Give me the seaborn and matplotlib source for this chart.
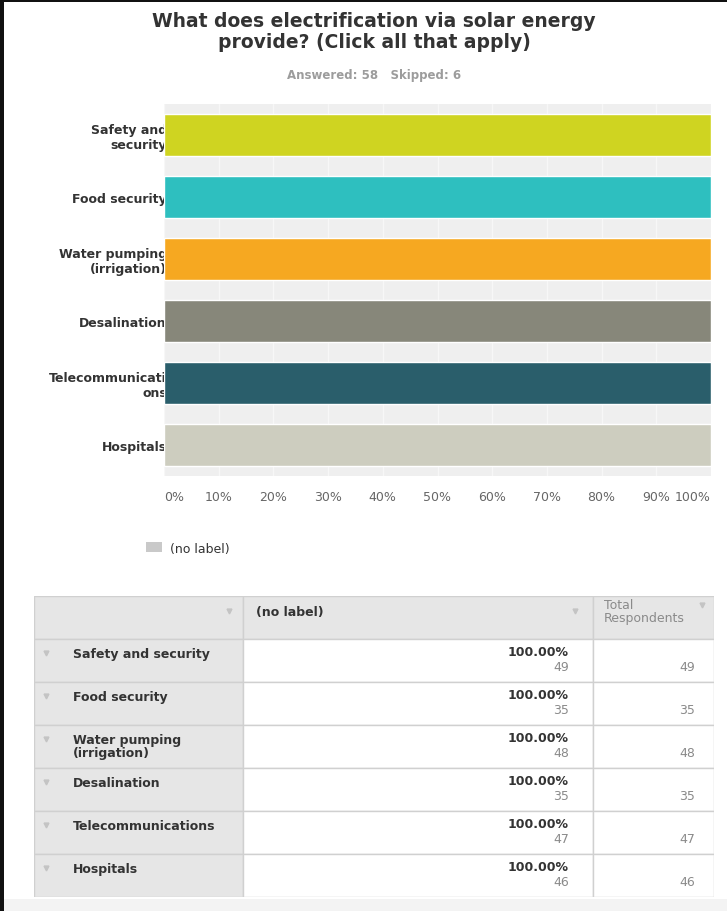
import matplotlib
matplotlib.use("Agg")
import matplotlib.pyplot as plt
import seaborn as sns
import pandas as pd
from matplotlib.patches import Rectangle, Patch

# ---- survey data ----
categories = ["Safety and security", "Food security", "Water pumping (irrigation)",
              "Desalination", "Telecommunications", "Hospitals"]
axis_labels = ["Safety and\nsecurity", "Food security", "Water pumping\n(irrigation)",
               "Desalination", "Telecommunicati\nons", "Hospitals"]
table_labels = ["Safety and security", "Food security", "Water pumping\n(irrigation)",
                "Desalination", "Telecommunications", "Hospitals"]
percent = [100.0, 100.0, 100.0, 100.0, 100.0, 100.0]
responses = [49, 35, 48, 35, 47, 46]
total_respondents = [49, 35, 48, 35, 47, 46]
bar_colors = ["#cfd421", "#2ebfbf", "#f6a821", "#87877a", "#2a5e6b", "#cdcdbf"]
x_ticks = [0, 10, 20, 30, 40, 50, 60, 70, 80, 90, 100]
x_tick_labels = ["0%", "10%", "20%", "30%", "40%", "50%", "60%", "70%", "80%", "90%", "100%"]
answered = 58
skipped = 6
series_name = "(no label)"

W, H = 727, 912
sns.set_theme(style="white")
plt.rcParams["font.family"] = ["DejaVu Sans"]

fig = plt.figure(figsize=(W / 100, H / 100), dpi=100)
fig.patch.set_facecolor("white")


def fx(px):
    return px / W


def fy(py):
    return 1 - py / H


# ---- title block ----
fig.text(fx(374), fy(32),
         "What does electrification via solar energy\nprovide? (Click all that apply)",
         ha="center", va="center", fontsize=13.5, fontweight="bold", color="#333333",
         linespacing=1.1, multialignment="center")
fig.text(fx(374), fy(75), f"Answered: {answered}   Skipped: {skipped}",
         ha="center", va="center", fontsize=8.5, fontweight="bold", color="#9c9c9c")

# ---- bar chart ----
ax = fig.add_axes([fx(164), fy(477), fx(711) - fx(164), fy(105) - fy(477)])
df = pd.DataFrame({"label": axis_labels, "percent": percent})
sns.barplot(data=df, x="percent", y="label", hue="label", palette=bar_colors,
            saturation=1, width=0.67, legend=False, orient="h", ax=ax)
ax.set_facecolor("#efefef")
ax.set_xlim(0, 100)
ax.set_xticks(x_ticks)
ax.set_xticklabels(x_tick_labels)
ax.grid(axis="x", color="#f7f7f7", linewidth=1)
ax.grid(axis="y", visible=False)
ax.set_axisbelow(True)
for s in ax.spines.values():
    s.set_visible(False)
ax.set_xlabel("")
ax.set_ylabel("")
ax.tick_params(axis="x", length=0, pad=10, labelsize=9, labelcolor="#666666")
ax.tick_params(axis="y", length=0, pad=-2, labelsize=9, labelcolor="#333333")
for lbl in ax.get_yticklabels():
    lbl.set_fontweight("bold")
# keep the end labels inside the plotting width
xlabels = ax.get_xticklabels()
xlabels[0].set_horizontalalignment("left")
xlabels[-1].set_horizontalalignment("right")

# ---- legend ----
leg = fig.legend(handles=[Patch(facecolor="#c9c9c9", edgecolor="none", label=series_name)],
                 loc="center left", bbox_to_anchor=(fx(146), fy(549)), frameon=False,
                 fontsize=9, handlelength=1.3, handleheight=0.9, handletextpad=0.6,
                 borderaxespad=0, borderpad=0)
for t in leg.get_texts():
    t.set_color("#333333")

# ---- summary table ----
col_edges = [0, 209, 559, 680]
n_rows = len(categories) + 1
tab = fig.add_axes([fx(34), fy(898), fx(714) - fx(34), fy(597) - fy(898)])
tab.set_xlim(0, col_edges[-1])
tab.set_ylim(n_rows, 0)
tab.axis("off")
grey_cell, white_cell, rule = "#e6e6e6", "#ffffff", "#d0d0d0"
for r in range(n_rows):
    for c in range(3):
        face = grey_cell if (r == 0 or c == 0) else white_cell
        tab.add_patch(Rectangle((col_edges[c], r), col_edges[c + 1] - col_edges[c], 1,
                                facecolor=face, edgecolor=rule, linewidth=1))

# header row
tab.text(col_edges[1] + 13, 0.37, series_name, ha="left", va="center",
         fontsize=9, fontweight="bold", color="#333333")
tab.text(col_edges[2] + 11, 0.35, "Total\nRespondents", ha="left", va="center",
         fontsize=9, color="#8a8a8a", linespacing=1.0)
tab.plot([col_edges[1] - 14, col_edges[2] - 18], [0.35, 0.35], linestyle="none",
         marker="v", markersize=3.5, color="#c4c4c4")
tab.plot([col_edges[3] - 12], [0.2], linestyle="none",
         marker="v", markersize=3.5, color="#c4c4c4")

# body rows
for i, (name, pct, n, tot) in enumerate(zip(table_labels, percent, responses, total_respondents)):
    r = i + 1
    tab.plot([12], [r + 0.33], linestyle="none", marker="v", markersize=3.5, color="#c4c4c4")
    tab.text(39, r + 0.18, name, ha="left", va="top", fontsize=9, fontweight="bold",
             color="#333333", linespacing=1.05)
    tab.text(col_edges[2] - 24, r + 0.28, f"{pct:.2f}%", ha="right", va="center",
             fontsize=9, fontweight="bold", color="#333333")
    tab.text(col_edges[2] - 24, r + 0.63, f"{n}", ha="right", va="center",
             fontsize=9, color="#8a8a8a")
    tab.text(col_edges[3] - 19, r + 0.65, f"{tot}", ha="right", va="center",
             fontsize=9, color="#8a8a8a")

# ---- page frame ----
fig.patches.append(Rectangle((fx(4), 0), 1, 12 / H, transform=fig.transFigure,
                             facecolor="#f3f3f3", edgecolor="none", zorder=0))
fig.patches.append(Rectangle((0, 0), fx(4), 1, transform=fig.transFigure,
                             facecolor="#111111", edgecolor="none", zorder=5))
fig.patches.append(Rectangle((0, 1 - 3 / H), 1, 3 / H, transform=fig.transFigure,
                             facecolor="#111111", edgecolor="none", zorder=5))

fig.savefig("out.png", dpi=100)
